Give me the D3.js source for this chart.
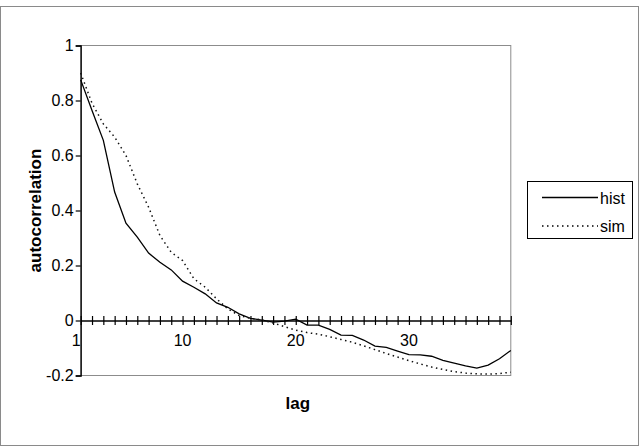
<!DOCTYPE html>
<html>
<head>
<meta charset="utf-8">
<script src="https://cdn.jsdelivr.net/npm/d3@7"></script>
<style>
  body { margin: 0; background: #fff; }
  svg { display: block; font-family: "Liberation Sans", Arial, sans-serif; }
</style>
</head>
<body>
<div id="chart"></div>
<script>
// lags 1..39
var lags = d3.range(1, 40);
var hist = [0.875, 0.764, 0.655, 0.467, 0.354, 0.303, 0.245, 0.212, 0.184, 0.143,
            0.121, 0.097, 0.064, 0.048, 0.024, 0.008, 0.001, -0.006, -0.002, 0.005,
            -0.017, -0.017, -0.032, -0.053, -0.054, -0.071, -0.093, -0.098, -0.111, -0.124,
            -0.125, -0.13, -0.145, -0.155, -0.165, -0.173, -0.162, -0.139, -0.109];
var sim = [0.9, 0.79, 0.715, 0.667, 0.6, 0.497, 0.412, 0.309, 0.248, 0.218,
           0.152, 0.121, 0.079, 0.042, 0.018, 0.008, 0.002, -0.009, -0.022, -0.035,
           -0.044, -0.05, -0.059, -0.069, -0.079, -0.092, -0.106, -0.12, -0.133, -0.146,
           -0.158, -0.169, -0.178, -0.186, -0.191, -0.194, -0.195, -0.193, -0.188];
var yTicks = [-0.2, 0, 0.2, 0.4, 0.6, 0.8, 1];
var xTickLabels = [1, 10, 20, 30];
var seriesNames = ["hist", "sim"];

var width = 640, height = 448;
var plotLeft = 80.7, plotRight = 510.8, plotTop = 45.5, plotBottom = 375.5;

var svg = d3.select("#chart").append("svg")
    .attr("width", width)
    .attr("height", height);

// chart area border
svg.append("rect")
    .attr("x", 0.5).attr("y", 6.5)
    .attr("width", 638).attr("height", 439)
    .attr("fill", "none")
    .attr("stroke", "#8a8a8a");

var x = d3.scalePoint().domain(lags).range([plotLeft, plotRight]).padding(0);
var y = d3.scaleLinear().domain([-0.2, 1]).range([plotBottom, plotTop]);

// plot area border
svg.append("rect")
    .attr("x", plotLeft).attr("y", plotTop)
    .attr("width", plotRight - plotLeft).attr("height", plotBottom - plotTop)
    .attr("fill", "none")
    .attr("stroke", "#8c8c8c");

// y axis
var yAxis = svg.append("g")
    .attr("transform", "translate(" + plotLeft + ",0)")
    .call(d3.axisLeft(y).tickValues(yTicks).tickSize(5).tickPadding(2)
        .tickFormat(function(d){ return d === 0 ? "0" : String(+d.toFixed(1)); }));
yAxis.select(".domain").attr("stroke", "#000").attr("stroke-width", 1.3);
yAxis.selectAll(".tick line").attr("stroke", "#000").attr("stroke-width", 1.2);
yAxis.selectAll("text").attr("font-size", 16).attr("fill", "#000")
    .attr("font-family", "Liberation Sans, Arial, sans-serif");

// x axis at zero, crossing ticks
var y0 = y(0);
var xAxis = svg.append("g")
    .attr("transform", "translate(0," + y0 + ")")
    .call(d3.axisBottom(x).tickSizeOuter(0).tickSizeInner(4.5).tickFormat(""));
xAxis.select(".domain").attr("stroke", "#000").attr("stroke-width", 1.3);
xAxis.selectAll(".tick line").attr("y1", -4.5).attr("y2", 4.5)
    .attr("stroke", "#000").attr("stroke-width", 1.2);

svg.append("g").selectAll("text")
    .data(xTickLabels)
    .enter().append("text")
    .attr("x", function(d){ return x(d); })
    .attr("y", y0 + 25)
    .attr("text-anchor", function(d, i){ return i === 0 ? "end" : "middle"; })
    .attr("font-size", 16)
    .text(function(d){ return d; });

// lines
var line = d3.line()
    .x(function(d, i){ return x(lags[i]); })
    .y(function(d){ return y(d); });

svg.append("path")
    .datum(hist)
    .attr("d", line)
    .attr("fill", "none")
    .attr("stroke", "#000")
    .attr("stroke-width", 1.3);

svg.append("path")
    .datum(sim)
    .attr("d", line)
    .attr("fill", "none")
    .attr("stroke", "#111")
    .attr("stroke-width", 1.5)
    .attr("stroke-dasharray", "1.5,3.5");

// axis titles
svg.append("text")
    .attr("transform", "translate(41,210.5) rotate(-90)")
    .attr("text-anchor", "middle")
    .attr("font-size", 17)
    .attr("font-weight", "bold")
    .text("autocorrelation");

svg.append("text")
    .attr("x", (plotLeft + plotRight) / 2 + 2)
    .attr("y", 409)
    .attr("text-anchor", "middle")
    .attr("font-size", 17)
    .attr("font-weight", "bold")
    .text("lag");

// legend
var legend = svg.append("g");
legend.append("rect")
    .attr("x", 527.5).attr("y", 181.5)
    .attr("width", 105).attr("height", 57)
    .attr("fill", "#fff")
    .attr("stroke", "#000");

var item = legend.selectAll("g.item")
    .data(seriesNames)
    .enter().append("g")
    .attr("class", "item")
    .attr("transform", function(d, i){ return "translate(0," + (197.5 + i * 28.5) + ")"; });

item.append("line")
    .attr("x1", 542).attr("x2", 598)
    .attr("stroke", "#000")
    .attr("stroke-width", function(d, i){ return i === 0 ? 1.3 : 1.5; })
    .attr("stroke-dasharray", function(d, i){ return i === 0 ? null : "1.5,3.5"; });

item.append("text")
    .attr("x", 600)
    .attr("y", 6)
    .attr("font-size", 16)
    .text(function(d){ return d; });
</script>
</body>
</html>
